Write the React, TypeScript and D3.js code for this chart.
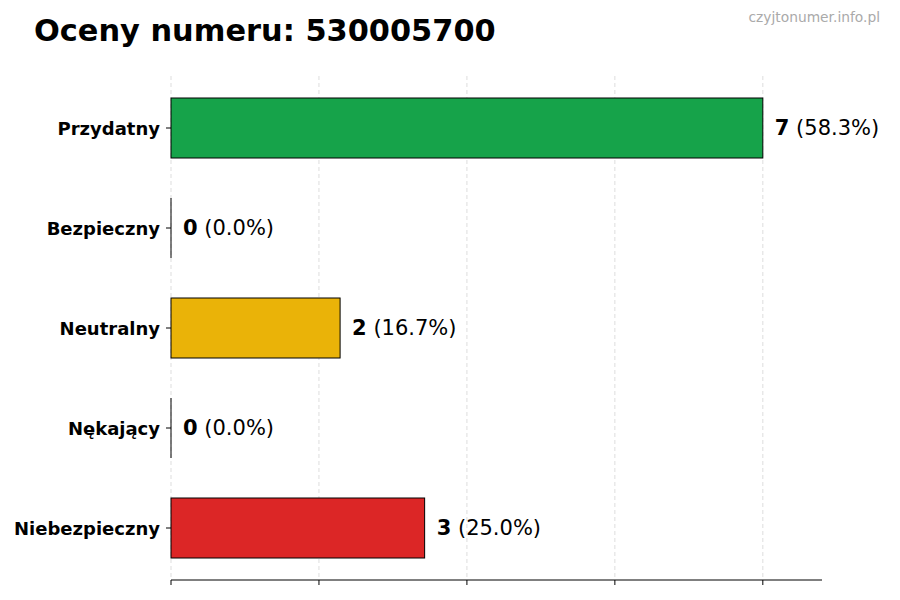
import { useMemo } from 'react';
import * as d3 from 'd3';

const categories = ['Przydatny', 'Bezpieczny', 'Neutralny', 'Nękający', 'Niebezpieczny'];
const counts = [7, 0, 2, 0, 3];
const colors = ['#16a34a', '#888888', '#eab308', '#888888', '#dc2626'];
const xTicks = [0, 1.75, 3.5, 5.25, 7];
const xMax = 7.7;

export default function App() {
  const width = 900;
  const height = 600;
  const margin = { top: 76, right: 78, bottom: 20, left: 171 };
  const innerW = width - margin.left - margin.right;
  const innerH = height - margin.top - margin.bottom;
  const font = 'DejaVu Sans, sans-serif';

  const { x, y, total } = useMemo(() => {
    const x = d3.scaleLinear().domain([0, xMax]).range([0, innerW]);
    const y = d3
      .scaleBand()
      .domain(categories)
      .range([0, innerH])
      .paddingInner(0.4)
      .paddingOuter(0.22);
    const total = d3.sum(counts);
    return { x, y, total };
  }, [innerW, innerH]);

  return (
    <div style={{ position: 'fixed', left: 0, top: 0 }}>
      <svg width={width} height={height} style={{ display: 'block', background: '#fff' }}>
        <text x={34} y={41} fontFamily={font} fontWeight='bold' fontSize={30.4} fill='#000'>
          Oceny numeru: 530005700
        </text>
        <text x={880} y={22} textAnchor='end' fontFamily={font} fontSize={13.8} fill='#aaaaaa'>
          czyjtonumer.info.pl
        </text>
        <g transform={`translate(${margin.left},${margin.top})`}>
          {/* grid */}
          {xTicks.map((t) => (
            <line
              key={t}
              x1={x(t)}
              x2={x(t)}
              y1={0}
              y2={innerH}
              stroke='#d4d4d4'
              strokeWidth={0.8}
              strokeDasharray='4 3'
            />
          ))}
          {/* bars */}
          {categories.map((c, i) => {
            const v = counts[i];
            const by = y(c) ?? 0;
            const bh = y.bandwidth();
            const pct = total ? ((v / total) * 100).toFixed(1) : '0.0';
            return (
              <g key={c}>
                {v > 0 ? (
                  <rect
                    x={0}
                    y={by}
                    width={x(v)}
                    height={bh}
                    fill={colors[i]}
                    stroke='#000'
                    strokeWidth={1}
                  />
                ) : (
                  <line x1={0} x2={0} y1={by} y2={by + bh} stroke='#000' strokeWidth={1} />
                )}
                <text
                  x={x(v) + 12}
                  y={by + bh / 2}
                  dominantBaseline='central'
                  fontFamily={font}
                  fontSize={21}
                  fill='#000'
                >
                  <tspan fontWeight='bold'>{v}</tspan>
                  <tspan> ({pct}%)</tspan>
                </text>
                <line x1={-5} x2={0} y1={by + bh / 2} y2={by + bh / 2} stroke='#000' />
                <text
                  x={-11}
                  y={by + bh / 2}
                  textAnchor='end'
                  dominantBaseline='central'
                  fontFamily={font}
                  fontWeight='bold'
                  fontSize={18}
                  fill='#000'
                >
                  {c}
                </text>
              </g>
            );
          })}
          {/* x axis */}
          <line x1={0} x2={innerW} y1={innerH} y2={innerH} stroke='#000' strokeWidth={1} />
          {xTicks.map((t) => (
            <line key={t} x1={x(t)} x2={x(t)} y1={innerH} y2={innerH + 5} stroke='#000' />
          ))}
        </g>
      </svg>
    </div>
  );
}
